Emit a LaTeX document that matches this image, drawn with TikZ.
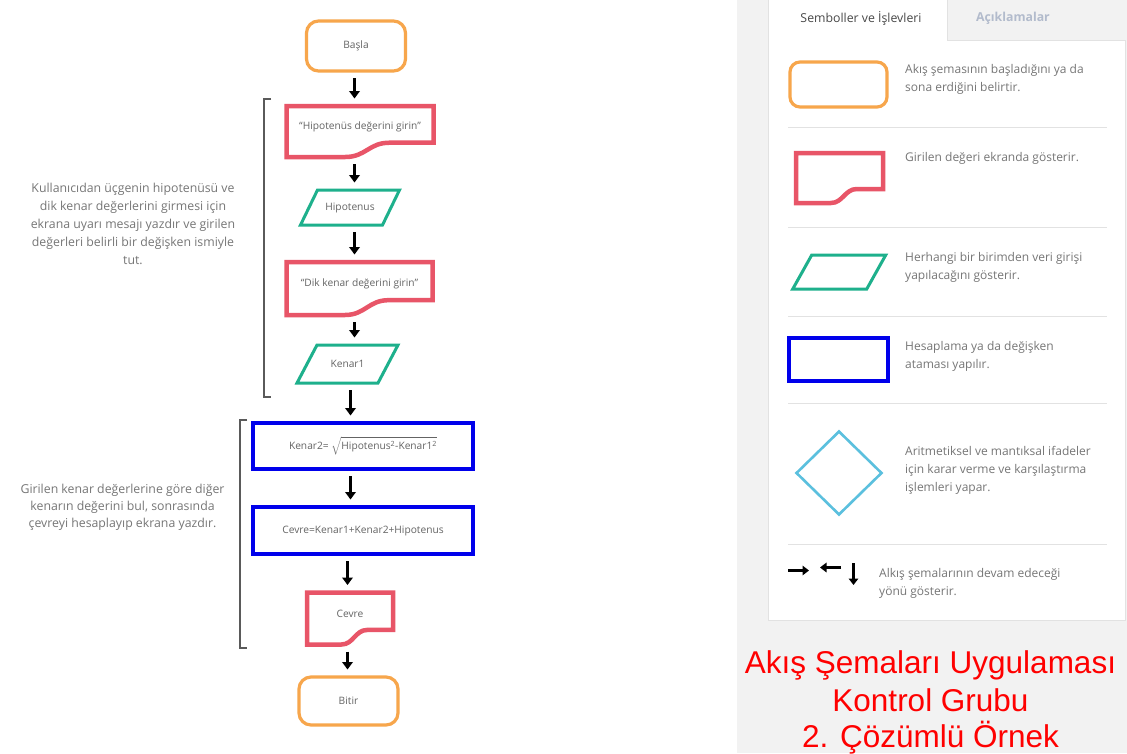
\documentclass[tikz,border=0pt]{standalone}
\usepackage{fontspec}
\setmainfont{Open Sans}
\newfontfamily\titlefont{Liberation Sans}
\usetikzlibrary{shapes.geometric,arrows.meta,calc}

\definecolor{startc}{RGB}{247,166,76}
\definecolor{outc}{RGB}{232,85,104}
\definecolor{inc}{RGB}{30,176,140}
\definecolor{procc}{RGB}{0,0,235}
\definecolor{decc}{RGB}{91,192,222}
\definecolor{txt}{RGB}{100,100,100}
\definecolor{desc}{RGB}{118,118,118}
\definecolor{panel}{RGB}{242,242,242}
\definecolor{rulec}{RGB}{226,226,226}
\definecolor{tabtxt}{RGB}{72,72,72}
\definecolor{tabdim}{RGB}{178,187,204}
\definecolor{brk}{RGB}{90,90,90}

% lift the text of a document node into its upper part
\newcommand\up[1]{\raisebox{5pt}[\height][\depth]{#1}}

% document outline (wavy bottom) around a named node
\newcommand\docoutline[1]{%
  \draw[docline] let \p1=(#1.north west), \p2=(#1.south east) in
    (\x1,\y1) -- (\x2,\y1)
    -- (\x2,{\y2+0.28*(\y1-\y2)})
    -- ({\x1+0.70*(\x2-\x1)},{\y2+0.28*(\y1-\y2)})
    .. controls ({\x1+0.56*(\x2-\x1)},{\y2+0.28*(\y1-\y2)}) and ({\x1+0.54*(\x2-\x1)},\y2) ..
    ({\x1+0.40*(\x2-\x1)},\y2)
    -- (\x1,\y2) -- cycle;}

% parallelogram outline around a named node, #2 = half slant
\newcommand\paraoutline[2]{%
  \draw[inline] ($(#1.north west)+(#2,0)$) -- ($(#1.north east)+(#2,0)$)
    -- ($(#1.south east)-(#2,0)$) -- ($(#1.south west)-(#2,0)$) -- cycle;}

\begin{document}
\begin{tikzpicture}[x=1pt,y=-1pt,
  font=\fontsize{10.2}{12}\selectfont, text=txt,
  dims/.style 2 args={minimum width=#1, minimum height=#2},
  startbox/.style={draw=startc, line width=3.2pt, rounded corners=12pt, inner sep=0pt, outer sep=0pt},
  docbox/.style={inner sep=0pt, outer sep=0pt},
  docline/.style={draw=outc, line width=4.5pt, line join=miter},
  inbox/.style={inner sep=0pt, outer sep=0pt},
  inline/.style={draw=inc, line width=3pt, line join=miter},
  procbox/.style={draw=procc, line width=3.5pt, inner sep=0pt, outer sep=0pt},
  decbox/.style={diamond, draw=decc, line width=2.6pt, inner sep=0pt, minimum width=86pt, minimum height=84pt},
  flow/.style={-{Triangle[length=7.5pt,width=10.5pt]}, line width=3.3pt, draw=black, shorten <=7pt, shorten >=7.5pt},
  legarrow/.style={-{Triangle[length=6.5pt,width=9.5pt]}, line width=3.2pt, draw=black},
  bracket/.style={draw=brk, line width=1.7pt},
  note/.style={align=center, text=desc, inner sep=0pt},
  legtext/.style={anchor=west, align=left, inner sep=0pt, text=desc, font=\fontsize{12}{18}\selectfont},
  sep/.style={draw=rulec, line width=0.9pt},
  titletext/.style={anchor=base, inner sep=0pt, text=red, font=\titlefont\fontsize{31.5}{37}\selectfont}
]
\useasboundingbox (0,0) rectangle (1127,753);
\fill[white] (0,0) rectangle (1127,753);

% ---------- flowchart ----------
\node[startbox, dims={99pt}{50pt}] (basla) at (356,46) {Başla};
\node[docbox, dims={147pt}{51pt}] (msg1) at (360,131.5) {\up{“Hipotenüs değerini girin”}};
\node[inbox, dims={82pt}{35pt}] (hip) at (350,207.5) {Hipotenus};
\node[docbox, dims={146pt}{53pt}] (msg2) at (359.5,288.5) {\up{“Dik kenar değerini girin”}};
\node[inbox, dims={81pt}{38pt}] (ken1) at (347.5,364) {Kenar1};
\node[procbox, dims={220pt}{46pt}] (ken2) at (363,446)
  {\raisebox{1.5pt}{Kenar2= $\sqrt{\mbox{Hipotenus\textsuperscript{2}-Kenar1\textsuperscript{2}}}$}};
\node[procbox, dims={220pt}{47pt}] (cevre) at (363,530.5) {Cevre=Kenar1+Kenar2+Hipotenus};
\node[docbox, dims={86pt}{52pt}] (out) at (350,618.5) {\up{Cevre}};
\node[startbox, dims={99pt}{48pt}] (bitir) at (348.5,701) {Bitir};

\docoutline{msg1}
\docoutline{msg2}
\docoutline{out}
\paraoutline{hip}{8.5}
\paraoutline{ken1}{10}

% arrow columns
\coordinate (colA) at (354.5,0);
\coordinate (colB) at (350.5,0);
\coordinate (colC) at (347.5,0);

\draw[flow] (basla.south -| colA) -- (msg1.north -| colA);
\draw[flow] (msg1.south -| colA) -- (hip.north -| colA);
\draw[flow] (hip.south -| colA) -- (msg2.north -| colA);
\draw[flow] (msg2.south -| colA) -- (ken1.north -| colA);
\draw[flow] (ken1.south -| colB) -- (ken2.north -| colB);
\draw[flow] (ken2.south -| colB) -- (cevre.north -| colB);
\draw[flow] (cevre.south -| colC) -- (out.north -| colC);
\draw[flow] (out.south -| colC) -- (bitir.north -| colC);

% grouping brackets
\draw[bracket] (271,99) -- (264,99) -- (264,397) -- (271,397);
\draw[bracket] (247,420) -- (240,420) -- (240,648) -- (247,648);

\node[note, font=\fontsize{12.3}{18.2}\selectfont] (note1) at (133,224)
  {Kullanıcıdan üçgenin hipotenüsü ve\\dik kenar değerlerini girmesi için\\ekrana uyarı mesajı yazdır ve girilen\\değerleri belirli bir değişken ismiyle\\tut.};
\node[note, font=\fontsize{12.3}{17.2}\selectfont] (note2) at (122.5,507)
  {Girilen kenar değerlerine göre diğer\\kenarın değerini bul, sonrasında\\çevreyi hesaplayıp ekrana yazdır.};

% ---------- legend panel ----------
\fill[panel] (737,0) rectangle (1127,753);
\draw[draw=rulec, line width=0.9pt, fill=white] (768,40) rectangle (1125,620);
\fill[white] (768.5,0) rectangle (947,41);
\draw[draw=rulec, line width=0.9pt] (768,40) -- (768,0);
\draw[draw=rulec, line width=0.9pt] (947,40) -- (947,0);

\node[text=tabtxt, font=\fontsize{12.3}{14}\selectfont] (tab1) at (861,18) {Semboller ve İşlevleri};
\node[text=tabdim, font=\bfseries\fontsize{12.3}{14}\selectfont] (tab2) at (1013,18) {Açıklamalar};

\node[startbox, dims={97pt}{45pt}, rounded corners=10pt] (lstart) at (838.5,84.5) {};
\node[legtext] (t1) at (905,79) {Akış şemasının başladığını ya da\\sona erdiğini belirtir.};
\draw[sep] (788,127) -- (1107,127);

\node[docbox, dims={87pt}{50pt}] (ldoc) at (839.5,178) {};
\docoutline{ldoc}
\node[legtext] (t2) at (905,158) {Girilen değeri ekranda gösterir.};
\draw[sep] (788,227) -- (1107,227);

\node[inbox, dims={74pt}{34pt}] (lin) at (839.25,272) {};
\paraoutline{lin}{9.5}
\node[legtext] (t3) at (905,267.5) {Herhangi bir birimden veri girişi\\yapılacağını gösterir.};
\draw[sep] (788,316) -- (1107,316);

\node[procbox, dims={99pt}{43pt}] (lproc) at (838.5,359.5) {};
\node[legtext] (t4) at (905,356.5) {Hesaplama ya da değişken\\ataması yapılır.};
\draw[sep] (788,403) -- (1107,403);

\node[decbox] (ldec) at (839,473) {};
\node[legtext] (t5) at (905,470) {Aritmetiksel ve mantıksal ifadeler\\için karar verme ve karşılaştırma\\işlemleri yapar.};
\draw[sep] (788,544) -- (1107,544);

\draw[legarrow] (788,570.5) -- (809,570.5);
\draw[legarrow] (841,567.5) -- (820,567.5);
\draw[legarrow] (853.5,563) -- (853.5,585);
\node[legtext] (t6) at (879,583.5) {Alkış şemalarının devam edeceği\\yönü gösterir.};

% ---------- title ----------
\node[titletext] (title1) at (930.5,673) {Akış Şemaları Uygulaması};
\node[titletext] (title2) at (930.5,711) {Kontrol Grubu};
\node[titletext] (title3) at (930.5,747) {2. Çözümlü Örnek};
\end{tikzpicture}
\end{document}
